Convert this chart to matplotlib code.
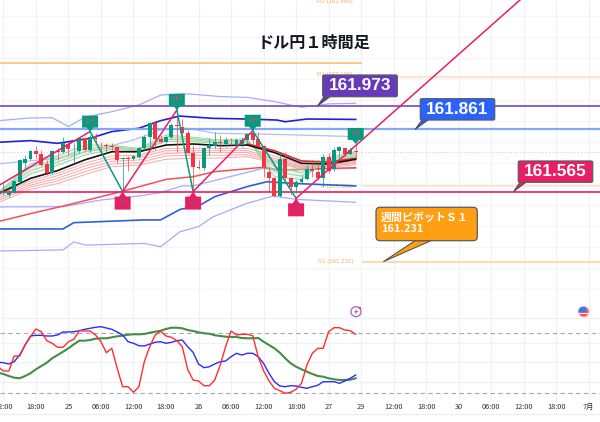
import numpy as np
import matplotlib
matplotlib.use("Agg")
import matplotlib.pyplot as plt
from matplotlib.patches import Circle, FancyBboxPatch, Polygon, Rectangle

plt.rcParams['font.family'] = ['Noto Sans CJK JP', 'DejaVu Sans']

# ローソク足 (1時間足)
opens = [161.560, 161.549, 161.565, 161.612, 161.700, 161.720, 161.760, 161.744, 161.695, 161.652, 161.759,
         161.754, 161.792, 161.766, 161.759, 161.819, 161.763, 161.830, 161.792, 161.786, 161.782, 161.779,
         161.719, 161.724, 161.719, 161.728, 161.771, 161.827, 161.890, 161.814, 161.800, 161.824, 161.882,
         161.871, 161.843, 161.751, 161.681, 161.676, 161.771, 161.784, 161.800, 161.792, 161.798, 161.787,
         161.787, 161.811, 161.843, 161.814, 161.784, 161.660, 161.631, 161.546, 161.719, 161.628, 161.589,
         161.612, 161.625, 161.671, 161.660, 161.628, 161.728, 161.671, 161.760, 161.774, 161.744, 161.757]
closes = [161.563, 161.565, 161.616, 161.716, 161.719, 161.760, 161.744, 161.692, 161.652, 161.759, 161.755,
          161.795, 161.766, 161.768, 161.819, 161.763, 161.827, 161.814, 161.790, 161.782, 161.779, 161.716,
          161.720, 161.719, 161.735, 161.771, 161.827, 161.894, 161.814, 161.800, 161.824, 161.882, 161.878,
          161.843, 161.747, 161.681, 161.676, 161.771, 161.787, 161.800, 161.795, 161.811, 161.795, 161.811,
          161.811, 161.840, 161.811, 161.784, 161.681, 161.628, 161.546, 161.719, 161.628, 161.589, 161.612,
          161.625, 161.671, 161.663, 161.628, 161.728, 161.665, 161.763, 161.779, 161.744, 161.763, 161.756]
highs = [161.604, 161.581, 161.620, 161.719, 161.739, 161.763, 161.782, 161.763, 161.716, 161.763, 161.771,
         161.824, 161.803, 161.795, 161.827, 161.824, 161.835, 161.843, 161.803, 161.795, 161.795, 161.782,
         161.724, 161.735, 161.739, 161.779, 161.835, 161.898, 161.903, 161.835, 161.835, 161.890, 161.951,
         161.909, 161.859, 161.787, 161.716, 161.779, 161.819, 161.851, 161.835, 161.827, 161.819, 161.819,
         161.827, 161.846, 161.862, 161.851, 161.787, 161.684, 161.636, 161.755, 161.755, 161.636, 161.620,
         161.644, 161.692, 161.716, 161.716, 161.744, 161.747, 161.779, 161.782, 161.779, 161.779, 161.787]
lows = [161.549, 161.541, 161.557, 161.608, 161.668, 161.716, 161.724, 161.687, 161.644, 161.647, 161.716,
        161.751, 161.739, 161.700, 161.747, 161.760, 161.755, 161.795, 161.755, 161.747, 161.763, 161.703,
        161.565, 161.665, 161.716, 161.724, 161.763, 161.771, 161.763, 161.795, 161.795, 161.814, 161.755,
        161.835, 161.744, 161.565, 161.671, 161.668, 161.739, 161.771, 161.755, 161.779, 161.787, 161.779,
        161.779, 161.803, 161.787, 161.779, 161.633, 161.565, 161.541, 161.541, 161.620, 161.549, 161.557,
        161.604, 161.620, 161.636, 161.620, 161.589, 161.652, 161.665, 161.724, 161.732, 161.739, 161.728]

# ボリンジャーバンド
bb_up2_t = [-1, 5, 9, 12, 15, 20, 25, 29, 33, 40, 45, 50, 55, 60, 65]
bb_up2 = [161.903, 161.916, 161.917, 161.875, 161.919, 161.946, 161.978, 162.025, 162.033, 162.018, 162.014,
          161.994, 161.967, 161.983, 161.986]
bb_up1_t = [-1, 5, 10, 16, 20, 25, 29, 32.5, 38.7, 45, 50.5, 52, 56, 65]
bb_up1 = [161.800, 161.808, 161.795, 161.819, 161.851, 161.867, 161.903, 161.925, 161.914, 161.911, 161.906,
          161.898, 161.911, 161.909]
thin_up_t = [-1, 10, 18, 24, 29, 34, 39, 46, 54, 65]
thin_up = [161.697, 161.724, 161.771, 161.811, 161.859, 161.867, 161.843, 161.840, 161.835, 161.827]
thin_low_t = [-1, 11, 18, 25, 29, 33, 35, 40.5, 48, 51, 57, 65]
thin_low = [161.492, 161.493, 161.525, 161.544, 161.560, 161.592, 161.592, 161.628, 161.676, 161.665, 161.671,
            161.676]
bb_low1_t = [-1, 11, 13, 18, 26, 29, 32.6, 36.3, 39, 45, 48.6, 53.5, 65]
bb_low1 = [161.387, 161.387, 161.417, 161.422, 161.430, 161.430, 161.480, 161.501, 161.541, 161.589, 161.612,
           161.604, 161.592]
bb_low2_t = [-1, 11, 13, 15.3, 26, 29, 32.6, 36, 38.7, 44.9, 49.8, 54, 65]
bb_low2 = [161.282, 161.287, 161.325, 161.310, 161.318, 161.302, 161.374, 161.398, 161.445, 161.509, 161.544,
           161.528, 161.514]
ma_red_t = [-1, 5.5, 11, 21, 30, 35, 39, 48, 51, 57, 65]
ma_red = [161.422, 161.463, 161.496, 161.560, 161.623, 161.636, 161.660, 161.681, 161.668, 161.673, 161.679]

# GMMA
gmma_t = [-1, 5, 10, 15, 20, 25, 30, 35, 40, 45, 50, 55, 60, 65]
g1 = [161.560, 161.697, 161.735, 161.787, 161.786, 161.771, 161.835, 161.824, 161.811, 161.817, 161.636, 161.623,
      161.728, 161.755]
g2 = [161.558, 161.681, 161.719, 161.771, 161.779, 161.766, 161.824, 161.817, 161.805, 161.811, 161.660, 161.639,
      161.719, 161.747]
g3 = [161.557, 161.665, 161.705, 161.755, 161.773, 161.763, 161.814, 161.811, 161.800, 161.805, 161.684, 161.655,
      161.712, 161.739]
g4 = [161.555, 161.649, 161.690, 161.739, 161.766, 161.760, 161.805, 161.803, 161.794, 161.798, 161.708, 161.671,
      161.706, 161.732]
r1 = [161.549, 161.616, 161.652, 161.700, 161.735, 161.739, 161.771, 161.771, 161.771, 161.771, 161.735, 161.697,
      161.693, 161.714]
r2 = [161.541, 161.606, 161.641, 161.687, 161.722, 161.728, 161.760, 161.760, 161.760, 161.760, 161.724, 161.692,
      161.690, 161.709]
r3 = [161.531, 161.596, 161.628, 161.674, 161.709, 161.716, 161.747, 161.751, 161.751, 161.751, 161.716, 161.687,
      161.687, 161.705]
r4 = [161.522, 161.587, 161.616, 161.660, 161.697, 161.703, 161.735, 161.738, 161.738, 161.741, 161.708, 161.684,
      161.684, 161.700]
r5 = [161.512, 161.576, 161.603, 161.646, 161.684, 161.692, 161.719, 161.724, 161.725, 161.732, 161.700, 161.679,
      161.681, 161.693]
ema_black = [161.554, 161.628, 161.665, 161.716, 161.755, 161.755, 161.787, 161.792, 161.784, 161.787, 161.751,
             161.700, 161.697, 161.719]
ema_dark_t = [45, 50, 55, 60, 65]
ema_dark = [161.792, 161.760, 161.711, 161.706, 161.724]

# スイング (ZigZag)
swing_t = [-1, 16, 22, 32, 35, 46, 54]
swing_p = [161.592, 161.851, 161.565, 161.954, 161.565, 161.855, 161.533]
swing_end_t = 95.3
swing_end_p = 162.478
tag_t = [16, 22, 32, 35, 46, 54, 65]
tag_p = [161.851, 161.565, 161.954, 161.565, 161.855, 161.533, 161.792]
tag_text = ["LH", "HL", "HH", "HL", "LH", "LL", "LH"]

# 水平線
level_high = 161.973
level_mid = 161.861
level_low = 161.565
pivot_s1 = 161.231
pivot_p = 161.591
pivot_r1 = 162.109
pivot_r2 = 162.469
level_orange = 162.178
last_price = 161.756

# ストキャスティクス
stoch_t = np.arange(-1, 66)
stoch_red = [46.3, 42, 42, 57, 57, 68, 76.3, 84, 81.3, 72.3, 69.7, 65.7, 65.7, 71.3, 73.7, 82.3, 82, 82, 78, 71.3,
             60.3, 64.7, 44.7, 26.3, 26.3, 20.7, 26.3, 51.3, 66.3, 78, 82, 77, 75.7, 72.3, 66.3, 43.7, 33, 32, 27.3,
             27.3, 33, 48, 66.3, 82, 78, 78.7, 78.7, 77.3, 56.3, 42.3, 32, 24.7, 22.3, 19.7, 20.7, 23.7, 29.7, 48,
             59.7, 64.7, 64.7, 81.3, 85.3, 85.3, 83, 82.3, 78.7]
stoch_blue = [50.7, 50.3, 49, 51.3, 58, 68, 77, 77.7, 77.7, 77, 77, 78, 81, 81, 81.3, 82.3, 83.7, 84.7, 85.7, 86.3,
              85, 83.7, 81, 78, 71.3, 69.7, 67.3, 67, 69, 70.7, 71.3, 69.7, 70.7, 72.3, 73, 66.3, 60.7, 49, 45.3,
              46.3, 49, 51.3, 52, 56.3, 59.7, 58, 59.7, 59.7, 56.3, 49.7, 39.7, 31.3, 27, 26.3, 27.3, 27, 25.7, 24.7,
              26.3, 27.7, 31.3, 31.3, 31.3, 29.7, 32, 34.7, 38]
stoch_green = [40.3, 39, 37, 35.3, 34.7, 37, 39.7, 43.7, 47, 50.3, 54.7, 58, 61.3, 64.7, 68.7, 72.3, 72.3, 73, 74.3,
               74.7, 74.7, 75.7, 76.7, 77.3, 78.3, 78.7, 78.7, 79, 80.3, 81.3, 82.3, 84, 85.3, 85.3, 84.7, 83, 82,
               80.7, 79.7, 79.3, 77.7, 77, 76.3, 76, 76, 75, 74.7, 74.7, 75, 71.3, 68, 64.7, 60.3, 54.7, 49.7, 46.3,
               43.7, 41.3, 39, 37, 36.3, 34.7, 33.7, 33, 33, 33.3, 34.7]

# 時間軸
tick_t = np.arange(0, 109, 6)
tick_labels = ["12:00", "18:00", "25", "06:00", "12:00", "18:00", "26", "06:00", "12:00", "18:00", "27", "29",
               "12:00", "18:00", "30", "06:00", "12:00", "18:00", "7月"]

W, H = 600, 422
T_LEFT, T_RIGHT = -0.627, 110.07
P_BOTTOM, P_TOP = 160.4669, 162.4782

GREEN = "#089981"
RED = "#f23645"
PINK = "#e91e63"


def px(t):
    return W * (t - T_LEFT) / (T_RIGHT - T_LEFT)


def py(p):
    return H * (P_TOP - p) / (P_TOP - P_BOTTOM)


def price_at(y):
    return P_TOP - y * (P_TOP - P_BOTTOM) / H


fig = plt.figure(figsize=(6, 4.22), dpi=100, facecolor="white")
ax = fig.add_axes([0, 0, 1, 1])
ax.set_xlim(T_LEFT, T_RIGHT)
ax.set_ylim(P_BOTTOM, P_TOP)
ax.axis("off")

# グリッド
ax.vlines(tick_t, price_at(400), P_TOP, color="#f0f1f5", lw=0.9, zorder=0)
ax.hlines(np.arange(161.1, 162.45, 0.1), T_LEFT, T_RIGHT, color="#f4f5f9", lw=0.9, zorder=0)
ax.hlines(price_at(414), T_LEFT, T_RIGHT, color="#eceef2", lw=0.9, zorder=0)

# ピボット
ax.hlines(level_orange, T_LEFT, 66.2, color="#ffb868", lw=1.1, zorder=1)
ax.hlines(pivot_r1, 66.2, T_RIGHT, color="#ffe3c4", lw=1.5, zorder=1)
ax.hlines(pivot_p, 66.2, T_RIGHT, color="#ffe3c4", lw=1.2, zorder=1)
ax.hlines(pivot_s1, 66.2, T_RIGHT, color="#ffcf9a", lw=1.1, zorder=1)
piv_txt = [("R2 (162.469)", pivot_r2), ("R1 (162.109)", pivot_r1 + 0.012), ("P (161.591)", pivot_p),
           ("S1 (161.231)", pivot_s1)]
for s, p in piv_txt:
    ax.text(64.5, p, s, color="#f7b267", fontsize=4.4, family="Liberation Sans", ha="right", va="center", zorder=2)

# バンド
ax.plot(bb_up2_t, bb_up2, color="#a9a9fb", lw=0.9, zorder=2)
ax.plot(bb_low2_t, bb_low2, color="#a9a9fb", lw=0.9, zorder=2)
ax.plot(thin_up_t, thin_up, color="#b9b9fb", lw=0.9, zorder=2)
ax.plot(thin_low_t, thin_low, color="#a9a9fb", lw=0.9, zorder=2)
ax.plot(bb_up1_t, bb_up1, color="#2020d8", lw=1.2, zorder=2)
ax.plot(bb_low1_t, bb_low1, color="#2f5fd8", lw=1.2, zorder=2)
ax.plot(ma_red_t, ma_red, color="#f4505a", lw=1.1, zorder=2)

# GMMA
for s in [r1, r2, r3, r4, r5]:
    ax.plot(gmma_t, s, color="#f8a8a8", lw=0.7, zorder=3)
ax.fill_between(gmma_t, g1, g4, color="#c8e6c9", alpha=0.35, lw=0, zorder=3)
for s in [g1, g2, g3, g4]:
    ax.plot(gmma_t, s, color="#9fd3a2", lw=0.7, zorder=3)
ax.plot(ema_dark_t, ema_dark, color="#d32f2f", lw=1.2, zorder=3)
ax.plot(gmma_t, ema_black, color="#111111", lw=1.2, zorder=3)

# 水平ライン
ax.hlines(level_high, T_LEFT, T_RIGHT, color="#7e57c2", lw=1.3, zorder=4)
ax.hlines(level_mid, T_LEFT, T_RIGHT, color="#82a6fb", lw=1.6, zorder=4)
ax.hlines(level_low, T_LEFT, T_RIGHT, color=PINK, lw=1.2, zorder=4)
ax.hlines(last_price, T_LEFT, T_RIGHT, color="#f6b8b8", lw=0.7, linestyles=(0, (1, 2)), zorder=2)

# ローソク足
for i in range(len(opens)):
    col = GREEN if closes[i] >= opens[i] else RED
    ax.vlines(i, lows[i], highs[i], color=col, lw=0.7, alpha=0.7, zorder=5)
    low_b = min(opens[i], closes[i])
    hgt = max(abs(closes[i] - opens[i]), 0.004)
    ax.add_patch(Rectangle((i - 0.36, low_b), 0.72, hgt, facecolor=col, edgecolor="none", zorder=6))

# スイング
for i in range(len(swing_t) - 1):
    col = PINK if swing_p[i + 1] > swing_p[i] else GREEN
    ax.plot(swing_t[i:i + 2], swing_p[i:i + 2], color=col, lw=1.1, zorder=7)
ax.plot([swing_t[-1], swing_end_t], [swing_p[-1], swing_end_p], color=PINK, lw=1.1, zorder=7)

# ストキャスティクス
ax2 = fig.add_axes([0, 0, 1, 1], facecolor="none")
ax2.set_xlim(T_LEFT, T_RIGHT)
ax2.set_ylim(-9, 413)
ax2.axis("off")
ax2.hlines([95, 70, 51, 31], T_LEFT, T_RIGHT, color="#f0f1f5", lw=0.9, zorder=0)
ax2.hlines([80, 20], T_LEFT, T_RIGHT, color="#a8a8a8", lw=0.8, linestyles=(0, (4, 3)), zorder=1)
ax2.plot(stoch_t, stoch_green, color="#3f8f45", lw=1.5, zorder=2)
ax2.plot(stoch_t, stoch_blue, color="#2b2bff", lw=1.0, zorder=3)
ax2.plot(stoch_t, stoch_red, color="#ff2d2d", lw=1.0, zorder=4)

# 注釈用レイヤー
ov = fig.add_axes([0, 0, 1, 1], facecolor="none")
ov.set_xlim(0, W)
ov.set_ylim(H, 0)
ov.axis("off")

for s, t, p in zip(tag_text, tag_t, tag_p):
    x, y = px(t), py(p)
    if s in ("LH", "HH"):
        ov.add_patch(Polygon([(x, y), (x - 3.5, y - 4), (x - 8, y - 4), (x - 8, y - 16), (x + 8, y - 16),
                              (x + 8, y - 4), (x + 3.5, y - 4)], facecolor=GREEN, edgecolor="none", zorder=8))
        ov.text(x, y - 10, s, color="#d9506e", fontsize=5, family="Liberation Sans", ha="center", va="center", zorder=9)
    else:
        ov.add_patch(Polygon([(x, y), (x + 3.5, y + 5), (x + 8, y + 5), (x + 8, y + 18), (x - 8, y + 18),
                              (x - 8, y + 5), (x - 3.5, y + 5)], facecolor=PINK, edgecolor="none", zorder=8))
        ov.text(x, y + 11.5, s, color="#5f6a78", fontsize=5, family="Liberation Sans", ha="center", va="center", zorder=9)


def callout(x0, y0, x1, y1, tip_x, price, fill, base, pad=1.5):
    tip_y = py(price)
    ov.add_patch(Polygon([(tip_x, tip_y), (base[0], y1), (base[1], y1)], facecolor=fill, edgecolor="#4a4a4a",
                         lw=0.7, zorder=10))
    ov.add_patch(FancyBboxPatch((x0 + pad, y0 + pad), x1 - x0 - 2 * pad, y1 - y0 - 2 * pad,
                                boxstyle=f"round,pad={pad}", facecolor=fill, edgecolor="#5a5a66", lw=0.9, zorder=11))


callout(322.7, 75, 397.3, 96.7, 317.5, level_high, "#673ab7", (324, 330))
ov.text(360, 86, f"{level_high:.3f}", color="white", fontsize=12.4, fontweight="bold", family="Liberation Sans",
        ha="center", va="center", zorder=12)
callout(420.3, 98.7, 494.7, 120, 415, level_mid, "#2962ff", (422, 428))
ov.text(457.5, 109.5, f"{level_mid:.3f}", color="white", fontsize=12.4, fontweight="bold", family="Liberation Sans",
        ha="center", va="center", zorder=12)
callout(518.3, 161, 592.7, 182.3, 513.5, level_low, PINK, (520, 526))
ov.text(555.5, 171.7, f"{level_low:.3f}", color="white", fontsize=12.4, fontweight="bold", family="Liberation Sans",
        ha="center", va="center", zorder=12)
callout(376, 207.3, 477.3, 240.7, 383.3, pivot_s1, "#ff9f14", (415, 431), pad=4)
ov.text(381, 217.5, "週間ピボットＳ１", color="white", fontsize=7.9, fontweight="bold", ha="left", va="center",
        zorder=12)
ov.text(381, 229.5, f"{pivot_s1:.3f}", color="white", fontsize=7.9, fontweight="bold", ha="left", va="center",
        zorder=12)

# タイトル
ov.text(314, 43, "ドル円１時間足", color="#131722", fontsize=11.6, fontweight="bold", ha="center", va="center",
        zorder=12)

# 時間軸ラベル
for t, s in zip(tick_t, tick_labels):
    ov.text(px(t), 407, s, color="#2a2e39", fontsize=5.3, ha="center", va="center", zorder=12)

# イベントアイコン
ov.add_patch(Circle((356, 311.7), 5, facecolor="white", edgecolor="#ba68c8", lw=1.0, zorder=12))
ov.add_patch(Polygon([(357.5, 308.5), (354, 312.3), (356, 312.3), (354.7, 315), (358.2, 311), (356.2, 311)],
                     facecolor="#ab47bc", edgecolor="none", zorder=13))
ov.add_patch(Circle((360, 308), 1.1, facecolor="#f23645", edgecolor="none", zorder=14))
flag = Circle((583.7, 311.7), 5.2, facecolor="#f7525f", edgecolor="#fbb0b6", lw=0.7, zorder=12)
ov.add_patch(flag)
stripe = Rectangle((578, 313), 11, 1.4, facecolor="white", edgecolor="none", zorder=13)
ov.add_patch(stripe)
stripe.set_clip_path(flag)
corner = Rectangle((578, 307), 7.5, 5, facecolor="#2f80ed", edgecolor="none", zorder=14)
ov.add_patch(corner)
corner.set_clip_path(flag)

fig.savefig("out.png", dpi=100)
